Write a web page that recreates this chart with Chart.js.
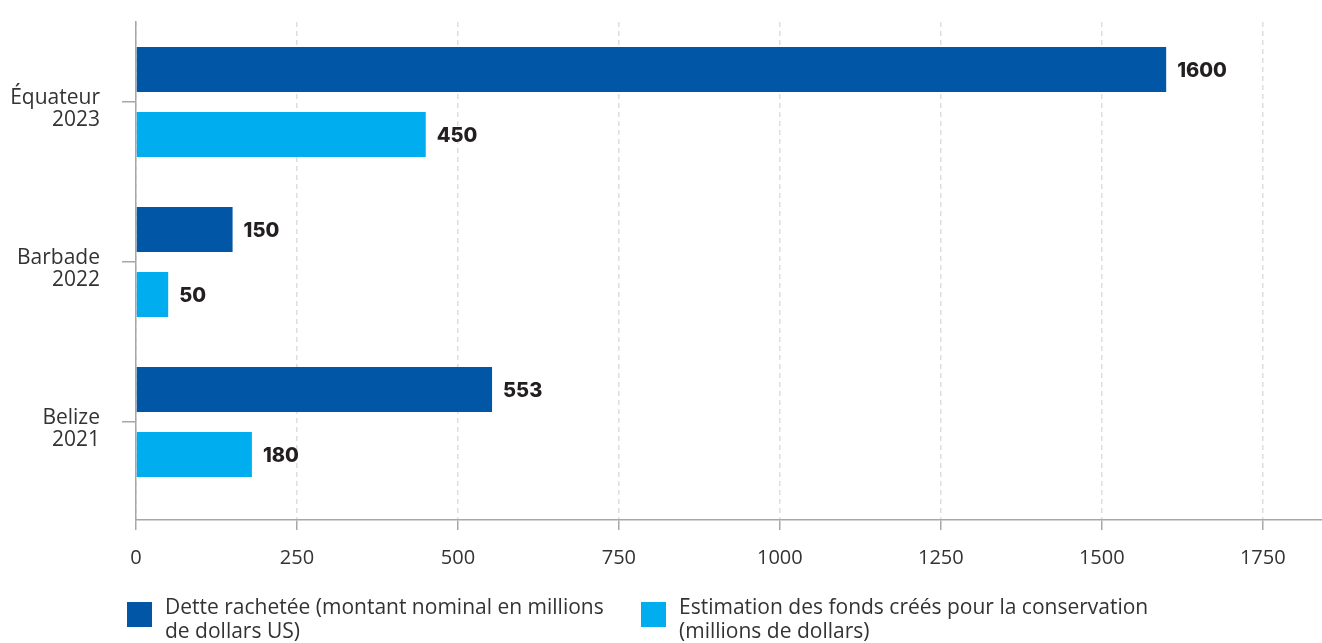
<!DOCTYPE html>
<html lang="fr">
<head>
  <meta charset="UTF-8">
  <title>Conversions de dette</title>
  <script src="https://cdn.jsdelivr.net/npm/chart.js"></script>
  <style>
    body {
      margin: 0;
      background: #fff;
      font-family: 'Open Sans', sans-serif;
    }
    #wrap {
      position: relative;
      width: 1322px;
      height: 643px;
    }
    .legend-item {
      position: absolute;
      top: 594px;
      display: flex;
      align-items: flex-start;
      color: #333;
      font-size: 21px;
      line-height: 24px;
    }
    .legend-item .box {
      width: 25px;
      height: 25px;
      margin-top: 8px;
      margin-right: 13px;
      flex: none;
    }
  </style>
</head>
<body>
  <div id="wrap">
    <canvas id="debtChart" width="1322" height="643"></canvas>
  </div>

  <script>
    const categories = [['Équateur', '2023'], ['Barbade', '2022'], ['Belize', '2021']];
    const detteRachetee = [1600, 150, 553];
    const fondsConservation = [450, 50, 180];
    const xTicks = [0, 250, 500, 750, 1000, 1250, 1500, 1750];
    const seriesLabels = [
      ['Dette rachetée (montant nominal en millions', 'de dollars US)'],
      ['Estimation des fonds créés pour la conservation', '(millions de dollars)']
    ];
    const seriesColors = ['#0156a6', '#00aeef'];

    // values written just right of each bar end
    const valueLabels = {
      id: 'valueLabels',
      afterDatasetsDraw(chart) {
        const ctx = chart.ctx;
        ctx.save();
        ctx.font = '800 20px Inter, sans-serif';
        ctx.fillStyle = '#231f20';
        ctx.textBaseline = 'middle';
        chart.data.datasets.forEach((ds, i) => {
          chart.getDatasetMeta(i).data.forEach((bar, j) => {
            ctx.fillText(String(ds.data[j]), bar.x + 11, bar.y + 1);
          });
        });
        ctx.restore();
      }
    };

    const ctx = document.getElementById('debtChart').getContext('2d');
    const chart = new Chart(ctx, {
      type: 'bar',
      data: {
        labels: categories,
        datasets: seriesLabels.map((lbl, i) => ({
          label: lbl.join(' '),
          data: i === 0 ? detteRachetee : fondsConservation,
          backgroundColor: seriesColors[i],
          categoryPercentage: 0.8125,
          barPercentage: 0.692
        }))
      },
      options: {
        indexAxis: 'y',
        responsive: false,
        animation: false,
        layout: { padding: { top: 22, right: 0, left: 0, bottom: 0 } },
        plugins: {
          legend: { display: false },
          tooltip: { enabled: false }
        },
        scales: {
          x: {
            min: 0,
            max: 1842,
            afterBuildTicks: s => { s.ticks = xTicks.map(v => ({ value: v })); },
            afterFit: s => { s.height = 123; },
            border: { color: '#a7a7a7', width: 1.5, dash: [5, 4] },
            grid: {
              color: '#dedede',
              lineWidth: 1.5,
              tickColor: '#a7a7a7',
              tickBorderDash: [],
              tickLength: 10
            },
            ticks: {
              color: '#333',
              padding: 16,
              font: { family: "'Open Sans', sans-serif", size: 20 },
              callback: v => String(v)
            }
          },
          y: {
            // leave a little extra room below the last category, as in the source
            afterBuildTicks: s => { s._valueRange = 3 + 18 / 160; },
            afterFit: s => { s.width = 136; s.paddingTop = 0; s.paddingBottom = 0; },
            border: { color: '#a7a7a7', width: 1.5 },
            grid: {
              drawOnChartArea: false,
              offset: false,
              color: '#a7a7a7',
              lineWidth: 1.5,
              tickLength: 14
            },
            ticks: {
              color: '#333',
              padding: 22,
              labelOffset: 7,
              font: { family: "'Open Sans', sans-serif", size: 21, lineHeight: 1.05 }
            }
          }
        }
      },
      plugins: [valueLabels]
    });

    // legend below the chart, two lines per item
    const legendX = [127, 641];
    chart.data.datasets.forEach((ds, i) => {
      const item = document.createElement('div');
      item.className = 'legend-item';
      item.style.left = legendX[i] + 'px';
      const box = document.createElement('span');
      box.className = 'box';
      box.style.background = ds.backgroundColor;
      const txt = document.createElement('span');
      txt.innerHTML = seriesLabels[i].join('<br>');
      item.appendChild(box);
      item.appendChild(txt);
      document.getElementById('wrap').appendChild(item);
    });
  </script>
</body>
</html>
